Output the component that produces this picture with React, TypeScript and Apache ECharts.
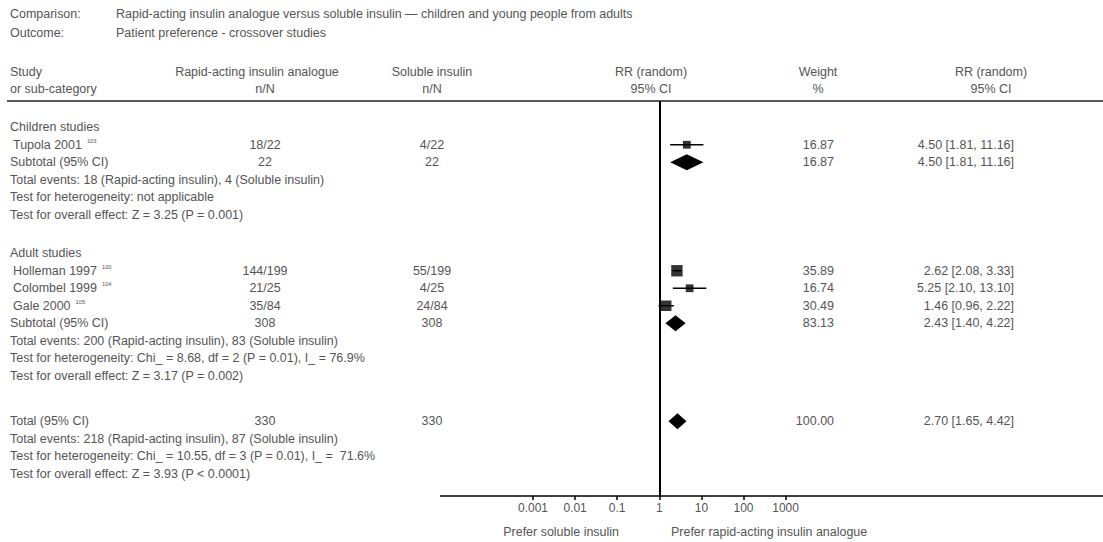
import React, { useEffect, useRef } from "react";
import * as echarts from "echarts";

const comparisonLabel = "Comparison:";
const comparisonText = "Rapid-acting insulin analogue versus soluble insulin — children and young people from adults";
const outcomeLabel = "Outcome:";
const outcomeText = "Patient preference - crossover studies";

const groupNames = ["Children studies", "Adult studies"];
const studyNames = ["Tupola 2001", "Holleman 1997", "Colombel 1999", "Gale 2000"];
const studyRefs = ["103", "100", "104", "105"];
const studyGroup = [0, 1, 1, 1];
const rapidEvents = [18, 144, 21, 35];
const rapidTotal = [22, 199, 25, 84];
const solubleEvents = [4, 55, 4, 24];
const solubleTotal = [22, 199, 25, 84];
const studyRR = [4.5, 2.62, 5.25, 1.46];
const studyLo = [1.81, 2.08, 2.1, 0.96];
const studyHi = [11.16, 3.33, 13.1, 2.22];
const studyWeight = [16.87, 35.89, 16.74, 30.49];

const pooledLabels = ["Subtotal (95% CI)", "Subtotal (95% CI)", "Total (95% CI)"];
const pooledRapidN = [22, 308, 330];
const pooledSolubleN = [22, 308, 330];
const pooledRR = [4.5, 2.43, 2.7];
const pooledLo = [1.81, 1.4, 1.65];
const pooledHi = [11.16, 4.22, 4.42];
const pooledWeight = [16.87, 83.13, 100.0];
const eventsTexts = [
  "Total events: 18 (Rapid-acting insulin), 4 (Soluble insulin)",
  "Total events: 200 (Rapid-acting insulin), 83 (Soluble insulin)",
  "Total events: 218 (Rapid-acting insulin), 87 (Soluble insulin)",
];
const hetTexts = [
  "Test for heterogeneity: not applicable",
  "Test for heterogeneity: Chi_ = 8.68, df = 2 (P = 0.01), I_ = 76.9%",
  "Test for heterogeneity: Chi_ = 10.55, df = 3 (P = 0.01), I_ =  71.6%",
];
const effectTexts = [
  "Test for overall effect: Z = 3.25 (P = 0.001)",
  "Test for overall effect: Z = 3.17 (P = 0.002)",
  "Test for overall effect: Z = 3.93 (P < 0.0001)",
];

const tickValues = [0.001, 0.01, 0.1, 1, 10, 100, 1000];
const tickLabels = ["0.001", "0.01", "0.1", "1", "10", "100", "1000"];
const favourLeft = "Prefer soluble insulin";
const favourRight = "Prefer rapid-acting insulin analogue";

// layout
const W = 1103;
const H = 542;
const TOP = 101;
const BOTTOM = 496;
const ROW_H = 17.5;
const DECADE = 42.1;
const X_ONE = 659.3;
const SECTION_STARTS = [1.5, 8.7, 18.3];
const FONT = '"Liberation Sans", Arial, sans-serif';
const FS = 12;
const SX = 1.04;
const TEXT_COLOR = "#555";

const rowToPx = (r: number) => TOP + r * ROW_H;

export default function App() {
  const ref = useRef<HTMLDivElement>(null);
  useEffect(() => {
    if (!ref.current) return;
    const chart = echarts.init(ref.current, null, { renderer: "svg" });

    const canvas = document.createElement("canvas");
    const ctx = canvas.getContext("2d")!;
    ctx.font = `${FS}px ${FONT}`;
    const measure = (s: string) => ctx.measureText(s).width * SX;

    // build rows
    const studyRow: number[] = [];
    const pooledRow: number[] = [];
    const groupRow: number[] = [];
    const infoRow: number[] = [];
    groupNames.forEach((_, g) => {
      let r = SECTION_STARTS[g];
      groupRow.push(r);
      r += 1;
      studyNames.forEach((__, i) => {
        if (studyGroup[i] === g) {
          studyRow[i] = r;
          r += 1;
        }
      });
      pooledRow.push(r);
      infoRow.push(r + 1);
    });
    pooledRow.push(SECTION_STARTS[2]);
    infoRow.push(SECTION_STARTS[2] + 1);

    const txt = (
      text: string,
      x: number,
      y: number,
      align: string = "left",
      size: number = FS
    ) => ({
      type: "text",
      x,
      y,
      scaleX: SX,
      silent: true,
      style: {
        text,
        fill: TEXT_COLOR,
        font: `${size}px ${FONT}`,
        textAlign: align,
        textVerticalAlign: "middle",
        verticalAlign: "middle",
      },
    });

    const graphics: any[] = [];
    graphics.push(txt(comparisonLabel, 10, 14));
    graphics.push(txt(comparisonText, 116, 14));
    graphics.push(txt(outcomeLabel, 10, 33));
    graphics.push(txt(outcomeText, 116, 33));

    const COL_RAPID = 265;
    const COL_SOL = 432;
    const COL_W = 834;
    const COL_RR = 1014;

    graphics.push(txt("Study", 10, 72));
    graphics.push(txt("or sub-category", 10, 89));
    graphics.push(txt("Rapid-acting insulin analogue", 257, 72, "center"));
    graphics.push(txt("n/N", COL_RAPID, 89, "center"));
    graphics.push(txt("Soluble insulin", COL_SOL, 72, "center"));
    graphics.push(txt("n/N", COL_SOL, 89, "center"));
    graphics.push(txt("RR (random)", 651, 72, "center"));
    graphics.push(txt("95% CI", 651, 89, "center"));
    graphics.push(txt("Weight", 818, 72, "center"));
    graphics.push(txt("%", 818, 89, "center"));
    graphics.push(txt("RR (random)", 991, 72, "center"));
    graphics.push(txt("95% CI", 991, 89, "center"));

    graphics.push({
      type: "line",
      silent: true,
      shape: { x1: 7, y1: TOP, x2: W, y2: TOP },
      style: { stroke: "#222", lineWidth: 1.5 },
    });
    // axis line extension beyond 0.001..1000
    graphics.push({
      type: "line",
      silent: true,
      shape: { x1: 440, y1: BOTTOM, x2: X_ONE - 3 * DECADE, y2: BOTTOM },
      style: { stroke: "#000", lineWidth: 1.5 },
    });
    graphics.push({
      type: "line",
      silent: true,
      shape: { x1: X_ONE + 3 * DECADE, y1: BOTTOM, x2: W, y2: BOTTOM },
      style: { stroke: "#000", lineWidth: 1.5 },
    });

    groupNames.forEach((name, g) => {
      graphics.push(txt(name, 10, rowToPx(groupRow[g])));
    });

    const fmtCI = (rr: number, lo: number, hi: number) =>
      `${rr.toFixed(2)} [${lo.toFixed(2)}, ${hi.toFixed(2)}]`;

    studyNames.forEach((name, i) => {
      const y = rowToPx(studyRow[i]);
      graphics.push(txt(name, 13, y));
      graphics.push(txt(studyRefs[i], 13 + measure(name) + 5, y - 4, "left", 5.5));
      graphics.push(txt(`${rapidEvents[i]}/${rapidTotal[i]}`, COL_RAPID, y, "center"));
      graphics.push(txt(`${solubleEvents[i]}/${solubleTotal[i]}`, COL_SOL, y, "center"));
      graphics.push(txt(studyWeight[i].toFixed(2), COL_W, y, "right"));
      graphics.push(txt(fmtCI(studyRR[i], studyLo[i], studyHi[i]), COL_RR, y, "right"));
    });

    pooledLabels.forEach((label, p) => {
      const y = rowToPx(pooledRow[p]);
      graphics.push(txt(label, 10, y));
      graphics.push(txt(String(pooledRapidN[p]), COL_RAPID, y, "center"));
      graphics.push(txt(String(pooledSolubleN[p]), COL_SOL, y, "center"));
      graphics.push(txt(pooledWeight[p].toFixed(2), COL_W, y, "right"));
      graphics.push(txt(fmtCI(pooledRR[p], pooledLo[p], pooledHi[p]), COL_RR, y, "right"));
      const r0 = infoRow[p];
      graphics.push(txt(eventsTexts[p], 10, rowToPx(r0)));
      graphics.push(txt(hetTexts[p], 10, rowToPx(r0 + 1)));
      graphics.push(txt(effectTexts[p], 10, rowToPx(r0 + 2)));
    });

    graphics.push(txt(favourLeft, 619, 532, "right"));
    graphics.push(txt(favourRight, 671, 532, "left"));

    const ciData = studyNames.map((_, i) => [studyLo[i], studyHi[i], studyRow[i]]);
    const squareData = studyNames.map((_, i) => ({
      value: [studyRR[i], studyRow[i]],
      symbolSize: 1.9 * Math.sqrt(studyWeight[i]),
    }));
    const diamondData = pooledLabels.map((_, p) => [pooledLo[p], pooledHi[p], pooledRow[p], pooledRR[p]]);

    const option: any = {
      animation: false,
      grid: {
        left: X_ONE - 3 * DECADE,
        width: 6 * DECADE,
        top: TOP,
        height: BOTTOM - TOP,
        containLabel: false,
      },
      xAxis: {
        type: "log",
        logBase: 10,
        position: "bottom",
        min: tickValues[0],
        max: tickValues[tickValues.length - 1],
        axisLine: { show: true, onZero: false, lineStyle: { color: "#000", width: 1.5 } },
        axisTick: { show: true, length: 4, lineStyle: { color: "#000", width: 1.5 } },
        axisLabel: {
          color: TEXT_COLOR,
          fontSize: FS,
          fontFamily: FONT,
          margin: 6,
          formatter: (v: number) => {
            const idx = tickValues.findIndex((t) => Math.abs(Math.log10(t) - Math.log10(v)) < 1e-6);
            return idx >= 0 ? tickLabels[idx] : "";
          },
        },
        splitLine: { show: false },
        minorTick: { show: false },
      },
      yAxis: {
        type: "value",
        inverse: true,
        min: 0,
        max: (BOTTOM - TOP) / ROW_H,
        show: false,
      },
      graphic: graphics,
      series: [
        {
          type: "custom",
          name: "ci",
          silent: true,
          renderItem: (params: any, api: any) => {
            const p1 = api.coord([api.value(0), api.value(2)]);
            const p2 = api.coord([api.value(1), api.value(2)]);
            return {
              type: "line",
              shape: { x1: p1[0], y1: p1[1], x2: p2[0], y2: p2[1] },
              style: { stroke: "#000", lineWidth: 1.5 },
            };
          },
          encode: { x: [0, 1], y: 2 },
          data: ciData,
          z: 2,
        },
        {
          type: "scatter",
          name: "studies",
          silent: true,
          symbol: "rect",
          itemStyle: { color: "#000" },
          data: squareData,
          z: 3,
          markLine: {
            silent: true,
            symbol: "none",
            label: { show: false },
            lineStyle: { color: "#000", width: 2, type: "solid" },
            data: [{ xAxis: 1 }],
          },
        },
        {
          type: "custom",
          name: "pooled",
          silent: true,
          renderItem: (params: any, api: any) => {
            const y = api.value(2);
            const l = api.coord([api.value(0), y]);
            const r = api.coord([api.value(1), y]);
            const c = api.coord([api.value(3), y]);
            const h = 8;
            return {
              type: "polygon",
              shape: {
                points: [
                  [l[0], l[1]],
                  [c[0], c[1] - h],
                  [r[0], r[1]],
                  [c[0], c[1] + h],
                ],
              },
              style: { fill: "#000" },
            };
          },
          encode: { x: [0, 1, 3], y: 2 },
          data: diamondData,
          z: 3,
        },
      ],
    };
    chart.setOption(option);
    return () => chart.dispose();
  }, []);
  return (
    <div
      ref={ref}
      style={{ position: "fixed", left: 0, top: 0, width: W, height: H, background: "#fff" }}
    />
  );
}
